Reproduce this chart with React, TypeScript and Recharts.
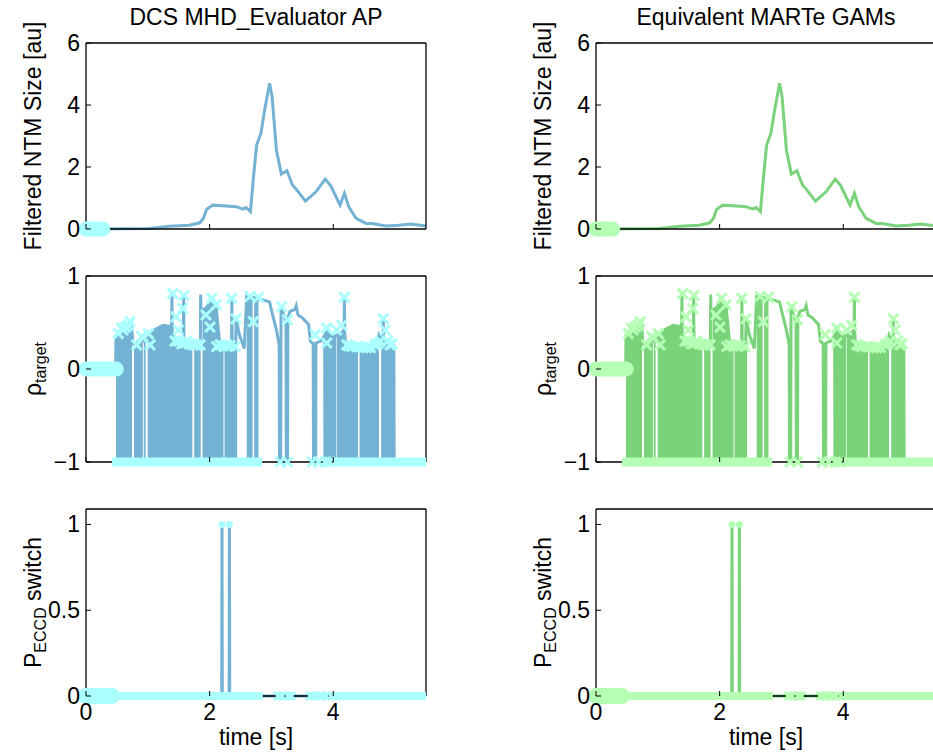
import React from "react";
import { ComposedChart, Line, Area, XAxis, YAxis, Label } from "recharts";

// shared time axis [s]
const timeDomain = [0, 5.5];
const timeTicks = [0, 2, 4];

const columnTitles = ["DCS MHD_Evaluator AP", "Equivalent MARTe GAMs"];

// --- filtered NTM size [au]
const ntmTime = [0, 0.5, 1.0, 1.14, 1.35, 1.67, 1.84, 1.9, 1.95, 2.05, 2.27, 2.43, 2.54, 2.59, 2.66, 2.71, 2.76, 2.83, 2.89, 2.97, 3.01, 3.08, 3.16, 3.25, 3.34, 3.39, 3.55, 3.72, 3.87, 3.96, 4.11, 4.18, 4.25, 4.37, 4.53, 4.63, 4.85, 5.06, 5.25, 5.5];
const ntmSize = [0, 0.01, 0.02, 0.04, 0.09, 0.12, 0.2, 0.35, 0.63, 0.77, 0.74, 0.72, 0.64, 0.69, 0.56, 1.69, 2.71, 3.09, 3.84, 4.7, 4.27, 2.55, 1.77, 1.88, 1.42, 1.31, 0.9, 1.2, 1.61, 1.39, 0.77, 1.15, 0.72, 0.34, 0.18, 0.18, 0.1, 0.12, 0.16, 0.1];
const ntmIdleBand = [0, 0.27];

// --- rho target
const rhoTime = [0, 0.48, 0.485, 0.6, 0.74, 0.76, 0.92, 0.96, 1.0, 1.1, 1.25, 1.36, 1.385, 1.39, 1.395, 1.5, 1.575, 1.58, 1.585, 1.72, 1.85, 1.855, 1.86, 1.95, 2.03, 2.1, 2.16, 2.2, 2.355, 2.36, 2.365, 2.42, 2.43, 2.48, 2.56, 2.6, 2.7, 2.79, 2.88, 2.97, 3.02, 3.08, 3.125, 3.13, 3.15, 3.155, 3.2, 3.235, 3.24, 3.26, 3.265, 3.3, 3.38, 3.4, 3.43, 3.5, 3.6, 3.63, 3.675, 3.68, 3.715, 3.72, 3.8, 3.86, 3.865, 3.9, 3.905, 3.93, 3.935, 3.94, 4.05, 4.15, 4.175, 4.18, 4.185, 4.2, 4.4, 4.6, 4.72, 4.74, 4.78, 4.805, 4.81, 4.815, 4.98, 4.985, 5.5];
const rhoValue = [0, 0, 0.36, 0.4, 0.45, 0.27, 0.3, 0.32, 0.36, 0.42, 0.47, 0.46, 0.38, 0.81, 0.36, 0.3, 0.32, 0.79, 0.32, 0.27, 0.25, 0.8, 0.62, 0.66, 0.74, 0.7, 0.3, 0.26, 0.26, 0.76, 0.26, 0.27, 0.54, 0.37, 0.22, 0.78, 0.77, 0.75, 0.74, 0.72, 0.58, 0.42, 0.26, -1, -1, 0.64, 0.58, 0.5, -1, -1, 0.55, 0.62, 0.64, 0.68, 0.58, 0.55, 0.48, 0.3, 0.27, -1, -1, 0.28, 0.3, 0.36, -1, -1, 0.4, 0.4, -1, 0.35, 0.36, 0.4, 0.42, 0.77, 0.4, 0.25, 0.23, 0.24, 0.28, 0.36, 0.3, 0.3, 0.54, 0.3, 0.25, -1, -1];

// where rho toggles fast the trace looks filled down to -1 (null = gap)
const rhoFillTime = [0.485, 0.6, 0.745, 0.755, 0.775, 0.92, 0.925, 0.935, 0.965, 0.98, 0.998, 1.1, 1.25, 1.36, 1.385, 1.39, 1.395, 1.5, 1.575, 1.58, 1.585, 1.72, 1.735, 1.75, 1.85, 1.855, 1.87, 1.885, 1.95, 2.03, 2.1, 2.16, 2.225, 2.23, 2.24, 2.355, 2.36, 2.365, 2.42, 2.43, 2.445, 2.5, 2.6, 2.695, 2.705, 2.72, 2.79, 2.8, 3.94, 4.05, 4.053, 4.06, 4.15, 4.175, 4.18, 4.185, 4.2, 4.4, 4.41, 4.425, 4.6, 4.72, 4.74, 4.75, 4.775, 4.805, 4.81, 4.815, 4.98];
const rhoFillValue = [0.36, 0.4, 0.45, null, 0.27, 0.3, null, 0.31, 0.32, null, 0.36, 0.42, 0.47, 0.46, 0.38, 0.81, 0.36, 0.3, 0.32, 0.79, 0.32, 0.27, null, 0.25, 0.25, 0.8, null, 0.62, 0.66, 0.74, 0.7, 0.3, 0.26, null, 0.26, 0.26, 0.76, 0.26, 0.27, 0.54, 0.5, null, 0.78, 0.77, null, 0.77, 0.75, null, 0.35, 0.36, null, 0.37, 0.4, 0.42, 0.77, 0.4, 0.25, 0.23, null, 0.23, 0.24, 0.28, 0.36, null, 0.3, 0.3, 0.54, 0.3, 0.25];

// requested rho samples (markers)
const rhoMarkTime = [0.523, 0.577, 0.6, 0.64, 0.685, 0.712, 0.82, 0.9, 1.009, 1.036, 1.402, 1.44, 1.456, 1.494, 1.5, 1.55, 1.564, 1.586, 1.6, 1.629, 1.68, 1.737, 1.78, 1.845, 1.942, 2.006, 2.033, 2.104, 2.114, 2.17, 2.22, 2.276, 2.33, 2.357, 2.411, 2.427, 2.654, 2.708, 2.789, 3.166, 3.258, 3.706, 3.894, 3.894, 4.056, 4.137, 4.18, 4.218, 4.25, 4.3, 4.379, 4.42, 4.48, 4.541, 4.6, 4.676, 4.72, 4.76, 4.811, 4.838, 4.88, 4.919, 4.95];
const rhoMarkValue = [0.38, 0.44, 0.42, 0.45, 0.47, 0.51, 0.26, 0.35, 0.38, 0.26, 0.81, 0.3, 0.56, 0.42, 0.3, 0.27, 0.65, 0.79, 0.28, 0.3, 0.27, 0.26, 0.26, 0.26, 0.58, 0.45, 0.76, 0.69, 0.24, 0.26, 0.25, 0.26, 0.25, 0.76, 0.24, 0.54, 0.78, 0.51, 0.77, 0.67, 0.53, 0.37, 0.44, 0.28, 0.42, 0.47, 0.77, 0.26, 0.25, 0.24, 0.24, 0.24, 0.23, 0.23, 0.23, 0.26, 0.27, 0.3, 0.54, 0.42, 0.3, 0.26, 0.27];
const rhoIdleBand = [0, 0.49];
const rhoOffBands = [[0.42, 2.85], [4.0, 5.5]];
const rhoOffMarks = [3.14, 3.26, 3.66, 3.76, 3.87, 3.94];

// --- P_ECCD switch
const switchTime = [0, 2.195, 2.2, 2.205, 2.315, 2.32, 2.325, 5.5];
const switchValue = [0, 0, 1, 0, 0, 1, 0, 0];
const switchOnTimes = [2.2, 2.32];
const switchIdleBand = [0, 0.42];
const switchOffBands = [[0.4, 2.86], [3.93, 5.5]];
const switchOffMarks = [3.11, 3.17, 3.27, 3.32, 3.63, 3.69, 3.77, 3.82, 3.88];

const FONT = "'Liberation Sans', Arial, Helvetica, sans-serif";
const FS = 23;
const COLUMN_X = [86, 596];
const ROW_Y = [43, 276, 509];
const ROW_H = [186, 186, 187];
const PLOT_W = 340;
const PAD = { top: 45, bottom: 55, left: 80, right: 20 };

const BLUE = { line: "#74b2d4", mark: "#aaffff" };
const GREEN = { line: "#7ad37a", mark: "#b4ffb4" };
type Colors = { line: string; mark: string };

const zip = (ts: number[], vs: (number | null)[]) => ts.map((t, i) => ({ t, v: vs[i] }));
const flat = (ts: number[], v: number) => ts.map((t) => ({ t, v }));
const bands = (segs: number[][], v: number) =>
  segs.flatMap((s, i) => {
    const rows: { t: number; v: number | null }[] = [{ t: s[0], v }, { t: s[1], v }];
    if (i < segs.length - 1) rows.push({ t: (s[1] + segs[i + 1][0]) / 2, v: null });
    return rows;
  });

const tickText = (v: number) => (v < 0 ? `\u2212${Math.abs(v)}` : String(v));

function BottomTick(props: any) {
  const { x, y, payload, showLabel } = props;
  return (
    <g>
      <line x1={x} x2={x} y1={y} y2={y - 5} stroke="#000" strokeWidth={1} />
      {showLabel && (
        <text x={x} y={y + 24} textAnchor="middle" fontSize={FS} fill="#000">
          {tickText(payload.value)}
        </text>
      )}
    </g>
  );
}

function TopTick(props: any) {
  const { x, y } = props;
  return <line x1={x} x2={x} y1={y} y2={y + 5} stroke="#000" strokeWidth={1} />;
}

function LeftTick(props: any) {
  const { x, y, payload } = props;
  return (
    <g>
      <line x1={x} x2={x + 5} y1={y} y2={y} stroke="#000" strokeWidth={1} />
      <text x={x - 6} y={y + 8} textAnchor="end" fontSize={FS} fill="#000">
        {tickText(payload.value)}
      </text>
    </g>
  );
}

function RightTick(props: any) {
  const { x, y } = props;
  return <line x1={x} x2={x - 5} y1={y} y2={y} stroke="#000" strokeWidth={1} />;
}

const crossDot = (color: string, r: number) => (p: any) => {
  const { cx, cy, index } = p;
  if (cx == null || cy == null || Number.isNaN(cy)) return <g key={`x${index}`} />;
  return (
    <path
      key={`x${index}`}
      d={`M${cx - r},${cy - r}L${cx + r},${cy + r}M${cx - r},${cy + r}L${cx + r},${cy - r}`}
      stroke={color}
      strokeWidth={3}
      fill="none"
    />
  );
};

const roundDot = (color: string) => (p: any) => (
  <circle key={`o${p.index}`} cx={p.cx} cy={p.cy} r={3.5} fill={color} />
);

function yLabel(row: number, vb: any) {
  const bx = vb.x + 35;
  const cy = vb.y + vb.height / 2;
  const common = {
    x: bx,
    y: cy,
    textAnchor: "middle" as const,
    fontSize: FS,
    fill: "#000",
    transform: `rotate(-90 ${bx} ${cy})`,
  };
  if (row === 0) return <text {...common}>Filtered NTM Size [au]</text>;
  if (row === 1)
    return (
      <text {...common}>
        <tspan>ρ</tspan>
        <tspan fontSize={16} dy={5}>target</tspan>
      </text>
    );
  return (
    <text {...common}>
      <tspan>P</tspan>
      <tspan fontSize={16} dy={5}>ECCD</tspan>
      <tspan dy={-5}> switch</tspan>
    </text>
  );
}

const thick = (key: string, data: any[], color: string, width: number, cap: "round" | "butt") => (
  <Line
    key={key}
    data={data}
    dataKey="v"
    stroke={color}
    strokeWidth={width}
    strokeLinecap={cap}
    dot={false}
    activeDot={false}
    isAnimationActive={false}
    zIndex={600}
  />
);

function series(row: number, c: Colors) {
  if (row === 0) {
    return [
      <Line key="ntm" data={zip(ntmTime, ntmSize)} dataKey="v" stroke={c.line} strokeWidth={3} dot={false} activeDot={false} isAnimationActive={false} />,
      thick("idle", flat(ntmIdleBand, 0), c.mark, 15, "round"),
    ];
  }
  if (row === 1) {
    return [
      <Area key="fill" data={zip(rhoFillTime, rhoFillValue)} dataKey="v" baseValue={-1} stroke="none" fill={c.line} fillOpacity={1} dot={false} activeDot={false} isAnimationActive={false} />,
      <Line key="rho" data={zip(rhoTime, rhoValue)} dataKey="v" stroke={c.line} strokeWidth={3} dot={false} activeDot={false} isAnimationActive={false} />,
      thick("idle", flat(rhoIdleBand, 0), c.mark, 15, "round"),
      thick("off", bands(rhoOffBands, -1), c.mark, 9, "butt"),
      <Line key="offx" data={flat(rhoOffMarks, -1)} dataKey="v" stroke="none" dot={crossDot(c.mark, 5)} activeDot={false} isAnimationActive={false} zIndex={600} />,
      <Line key="marks" data={zip(rhoMarkTime, rhoMarkValue)} dataKey="v" stroke="none" dot={crossDot(c.mark, 5)} activeDot={false} isAnimationActive={false} zIndex={600} />,
    ];
  }
  return [
    <Line key="sw" data={zip(switchTime, switchValue)} dataKey="v" stroke={c.line} strokeWidth={3} dot={false} activeDot={false} isAnimationActive={false} />,
    thick("idle", flat(switchIdleBand, 0), c.mark, 16, "round"),
    thick("off", bands(switchOffBands, 0), c.mark, 8, "butt"),
    <Line key="offx" data={flat(switchOffMarks, 0)} dataKey="v" stroke="none" dot={crossDot(c.mark, 4)} activeDot={false} isAnimationActive={false} zIndex={600} />,
    <Line key="on" data={flat(switchOnTimes, 1)} dataKey="v" stroke="none" dot={roundDot(c.mark)} activeDot={false} isAnimationActive={false} zIndex={600} />,
  ];
}

const yDomains = [[0, 6], [-1, 1], [0, 1.09]];
const yTicks = [[0, 2, 4, 6], [-1, 0, 1], [0, 0.5, 1]];

function Panel({ row, col, colors }: { row: number; col: number; colors: Colors }) {
  const h = ROW_H[row];
  const axisLine = { stroke: "#000", strokeWidth: 1.3 };
  const isBottom = row === 2;
  return (
    <div style={{ position: "absolute", left: COLUMN_X[col] - PAD.left, top: ROW_Y[row] - PAD.top }}>
      <ComposedChart
        width={PLOT_W + PAD.left + PAD.right}
        height={h + PAD.top + PAD.bottom}
        margin={{ top: 0, right: 0, bottom: 0, left: 0 }}
      >
        <XAxis
          dataKey="t"
          type="number"
          domain={timeDomain}
          ticks={timeTicks}
          interval={0}
          height={PAD.bottom}
          tickSize={0}
          tickMargin={0}
          tickLine={false}
          axisLine={axisLine}
          tick={<BottomTick showLabel={isBottom} />}
        >
          {isBottom && (
            <Label
              content={(p: any) => (
                <text x={p.viewBox.x + p.viewBox.width / 2} y={p.viewBox.y + 49} textAnchor="middle" fontSize={FS} fill="#000">
                  time [s]
                </text>
              )}
            />
          )}
        </XAxis>
        <XAxis
          xAxisId="top"
          orientation="top"
          dataKey="t"
          type="number"
          domain={timeDomain}
          ticks={timeTicks}
          interval={0}
          height={PAD.top}
          tickSize={0}
          tickMargin={0}
          tickLine={false}
          axisLine={axisLine}
          tick={<TopTick />}
        >
          {row === 0 && (
            <Label
              content={(p: any) => (
                <text x={p.viewBox.x + p.viewBox.width / 2} y={p.viewBox.y + p.viewBox.height - 18} textAnchor="middle" fontSize={FS} fill="#000">
                  {columnTitles[col]}
                </text>
              )}
            />
          )}
        </XAxis>
        <YAxis
          type="number"
          domain={yDomains[row]}
          ticks={yTicks[row]}
          interval={0}
          width={PAD.left}
          tickSize={0}
          tickMargin={0}
          tickLine={false}
          axisLine={axisLine}
          tick={<LeftTick />}
        >
          <Label content={(p: any) => yLabel(row, p.viewBox)} />
        </YAxis>
        <YAxis
          yAxisId="r"
          orientation="right"
          type="number"
          domain={yDomains[row]}
          ticks={yTicks[row]}
          interval={0}
          width={PAD.right}
          tickSize={0}
          tickMargin={0}
          tickLine={false}
          axisLine={axisLine}
          tick={<RightTick />}
        />
        {series(row, colors)}
      </ComposedChart>
    </div>
  );
}

export default function App() {
  return (
    <div
      style={{
        position: "fixed",
        left: 0,
        top: 0,
        width: 933,
        height: 753,
        overflow: "hidden",
        background: "#fff",
        fontFamily: FONT,
      }}
    >
      {[0, 1].map((col) =>
        [0, 1, 2].map((row) => (
          <Panel key={`${col}-${row}`} row={row} col={col} colors={col === 0 ? BLUE : GREEN} />
        ))
      )}
    </div>
  );
}
